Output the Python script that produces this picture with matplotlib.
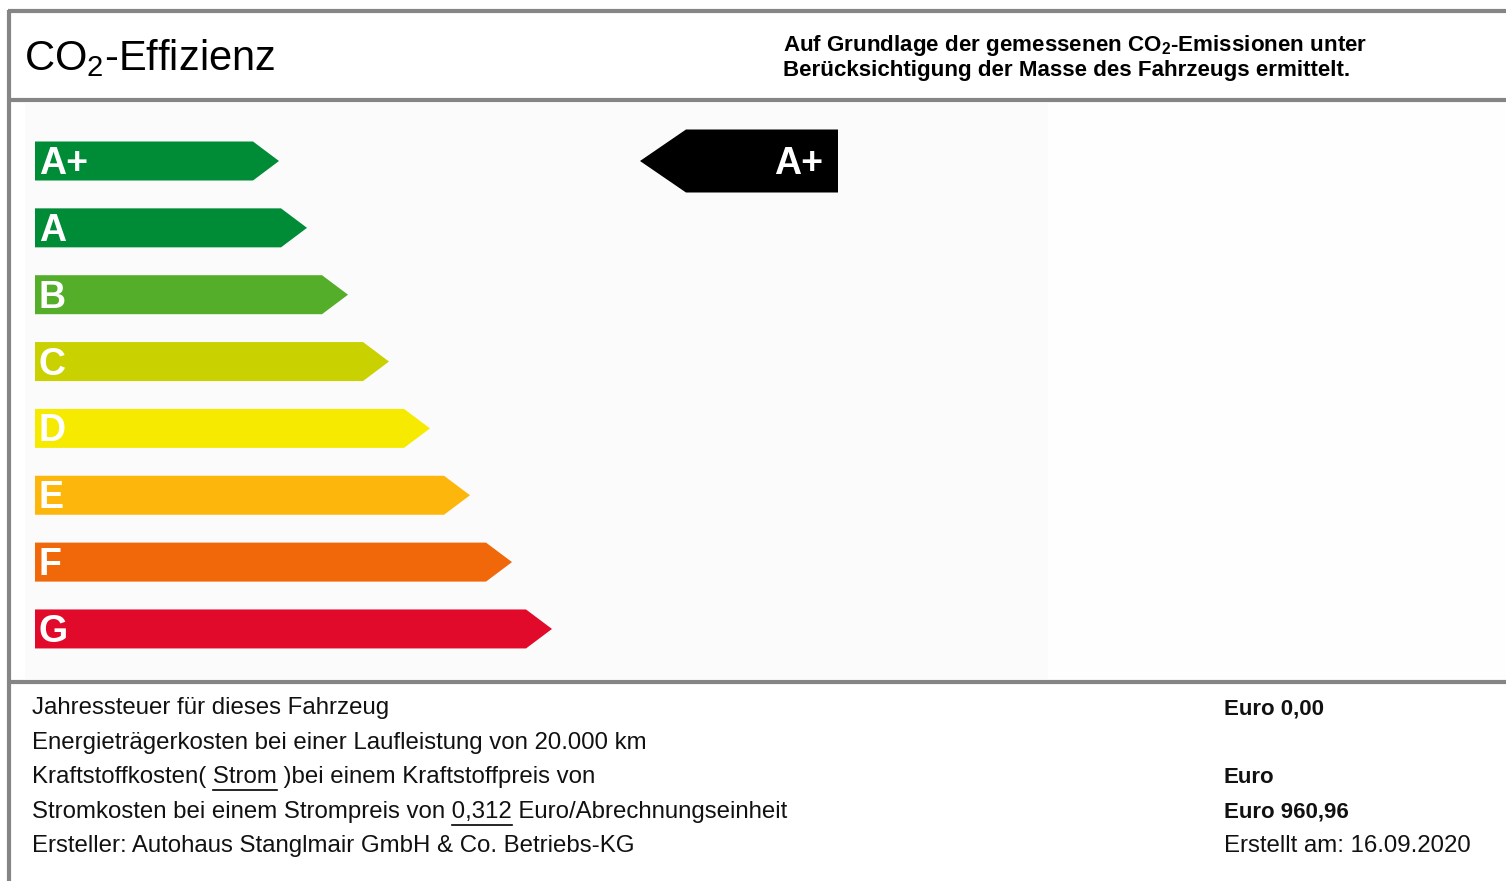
import matplotlib
matplotlib.use("Agg")
import matplotlib.pyplot as plt
from matplotlib.patches import Polygon, Rectangle

plt.rcParams['font.family'] = ['Liberation Sans', 'DejaVu Sans']
plt.rcParams['mathtext.fontset'] = 'custom'
plt.rcParams['mathtext.rm'] = 'Liberation Sans'
plt.rcParams['mathtext.it'] = 'Liberation Sans'
plt.rcParams['mathtext.bf'] = 'Liberation Sans:bold'

# ---- data ----
categories = ['A+', 'A', 'B', 'C', 'D', 'E', 'F', 'G']
bar_lengths = [244, 272, 313, 354, 395, 435, 477, 517]
bar_colors = ['#008c36', '#008c36', '#55ae29', '#c9d100', '#f6eb00', '#fdb70c', '#f0680a', '#e20a2b']
vehicle_class = 'A+'

title = r'CO$_2$-Effizienz'
header_lines = [r'Auf Grundlage der gemessenen CO$_\mathbf{2}$-Emissionen unter',
                'Berücksichtigung der Masse des Fahrzeugs ermittelt.']

info_labels = ['Jahressteuer für dieses Fahrzeug',
               'Energieträgerkosten bei einer Laufleistung von 20.000 km',
               'Kraftstoffkosten( Strom )bei einem Kraftstoffpreis von',
               'Stromkosten bei einem Strompreis von 0,312 Euro/Abrechnungseinheit',
               'Ersteller: Autohaus Stanglmair GmbH & Co. Betriebs-KG']
underlined = [None, None, 'Strom', '0,312', None]
info_values = ['Euro 0,00', '', 'Euro', 'Euro 960,96', 'Erstellt am: 16.09.2020']
info_value_bold = [True, False, True, True, False]

# ---- figure ----
W, H = 1506, 881
fig = plt.figure(figsize=(W / 100, H / 100), dpi=100)
ax = fig.add_axes([0, 0, 1, 1])
ax.set_xlim(0, W)
ax.set_ylim(H, 0)
ax.axis('off')

gray = '#858585'
# faint panel background
ax.add_patch(Rectangle((25, 103), 1023, 576, facecolor='#fbfbfb', edgecolor='none', zorder=0))
ax.add_patch(Rectangle((1048, 103), 458, 576, facecolor='#fefefe', edgecolor='none', zorder=0))
# frame lines
for y in (11, 100, 682):
    ax.plot([8, W], [y, y], color=gray, lw=3, solid_capstyle='butt', zorder=1)
ax.plot([9, 9], [10, H], color=gray, lw=3, solid_capstyle='butt', zorder=1)

# title
ax.text(24, 70, title, fontsize=30, color='black', ha='left', va='baseline')
# header
ax.text(783, 51, header_lines[0], fontsize=16.1, fontweight='bold', ha='left', va='baseline')
ax.text(783, 76, header_lines[1], fontsize=16.1, fontweight='bold', ha='left', va='baseline')

# rating arrows
x0 = 35
y_first = 161
step = 66.85
bar_h = 39
tip = 26
for i, (cat, L, col) in enumerate(zip(categories, bar_lengths, bar_colors)):
    yc = y_first + i * step
    pts = [(x0, yc - bar_h / 2), (x0 + L - tip, yc - bar_h / 2), (x0 + L, yc),
           (x0 + L - tip, yc + bar_h / 2), (x0, yc + bar_h / 2)]
    ax.add_patch(Polygon(pts, closed=True, facecolor=col, edgecolor='none', zorder=2))
    ax.text(x0 + 4, yc + 13, cat, fontsize=27, fontweight='bold', color='white',
            ha='left', va='baseline', zorder=3)

# vehicle class marker
k = categories.index(vehicle_class)
yc = y_first + k * step
mx_l, mx_r, mh, mtip = 640, 838, 63, 46
pts = [(mx_l, yc), (mx_l + mtip, yc - mh / 2), (mx_r, yc - mh / 2),
       (mx_r, yc + mh / 2), (mx_l + mtip, yc + mh / 2)]
ax.add_patch(Polygon(pts, closed=True, facecolor='black', edgecolor='none', zorder=2))
ax.text(823, yc + 13, vehicle_class, fontsize=27, fontweight='bold', color='white',
        ha='right', va='baseline', zorder=3)

# info rows
fig.canvas.draw()
renderer = fig.canvas.get_renderer()
base0 = 714
lstep = 34.6
fs = 17.3
inv = ax.transData.inverted()
for i, (lab, ul, val, vb) in enumerate(zip(info_labels, underlined, info_values, info_value_bold)):
    yb = base0 + i * lstep
    ax.text(32, yb, lab, fontsize=fs, ha='left', va='baseline', color='#111111')
    if ul:
        idx = lab.index(ul)
        pre = ax.text(32, yb, lab[:idx], fontsize=fs, ha='left', va='baseline')
        word = ax.text(32, yb, lab[:idx + len(ul)], fontsize=fs, ha='left', va='baseline')
        e1 = pre.get_window_extent(renderer)
        e2 = word.get_window_extent(renderer)
        xa = inv.transform((e1.x1, 0))[0]
        xb = inv.transform((e2.x1, 0))[0]
        pre.remove()
        word.remove()
        ax.plot([xa, xb], [yb + 7, yb + 7], color='black', lw=1.2, zorder=3)
    if val:
        ax.text(1224, yb, val, fontsize=fs if not vb else 16,
                fontweight='bold' if vb else 'normal', ha='left', va='baseline', color='#111111')

fig.savefig('out.png', dpi=100, facecolor='white')
